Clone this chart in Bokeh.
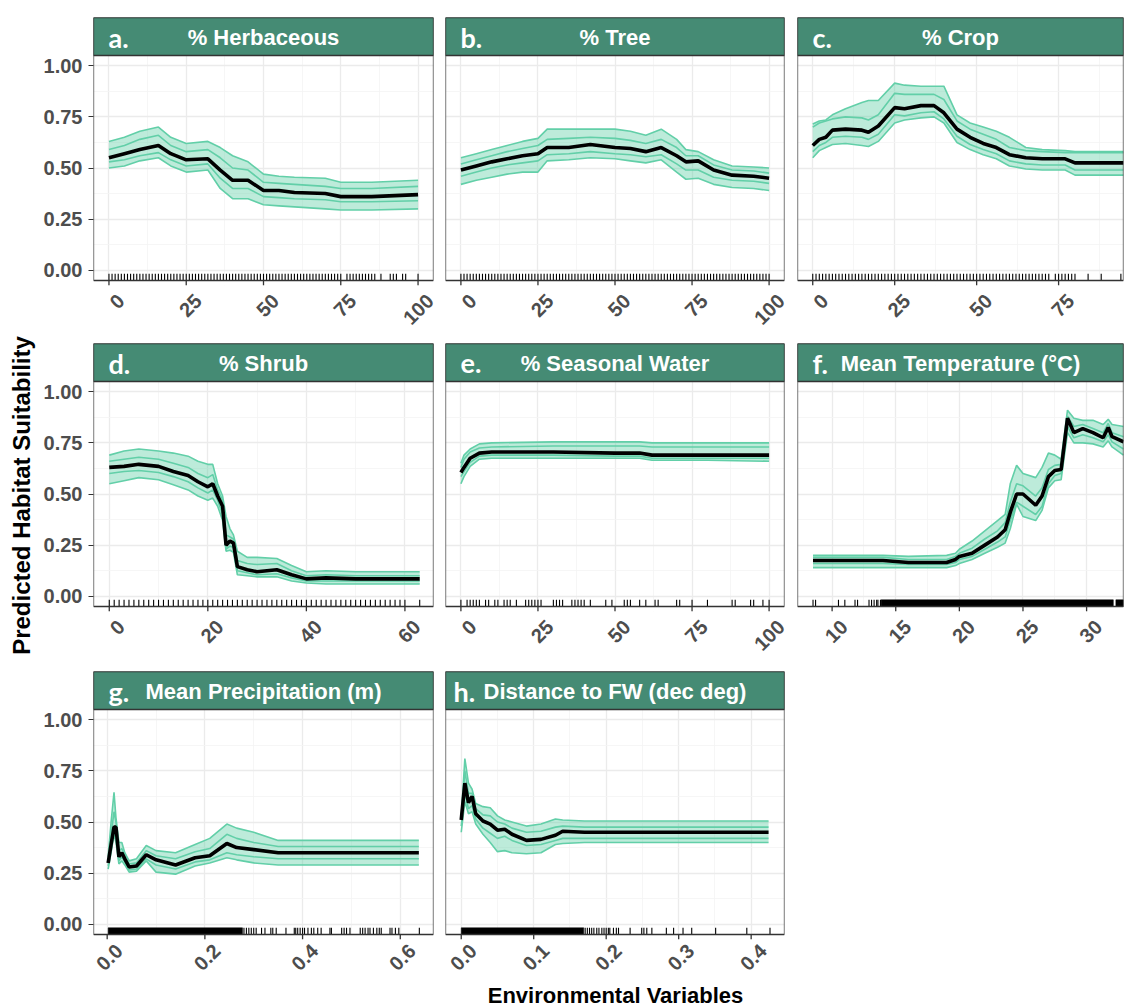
import math
from bokeh.plotting import figure
from bokeh.layouts import row, column
from bokeh.models import (FixedTicker, BoxAnnotation, Label, PrintfTickFormatter, Range1d,
                          CustomJSTickFormatter)
from bokeh.embed import file_html
from bokeh.resources import INLINE

# ---------------- data ----------------
# a. % Herbaceous
xs_a = [0, 5, 10, 16, 20, 25, 32, 36, 40, 45, 50, 55, 60, 70, 75, 85, 100]
mean_a = [0.55, 0.57, 0.59, 0.61, 0.57, 0.54, 0.545, 0.49, 0.44, 0.44, 0.39, 0.39, 0.38, 0.375, 0.36, 0.36, 0.37]
hi_a = [0.63, 0.65, 0.68, 0.70, 0.65, 0.62, 0.63, 0.60, 0.56, 0.53, 0.47, 0.46, 0.455, 0.45, 0.43, 0.43, 0.44]
hi2_a = [0.59, 0.61, 0.64, 0.66, 0.61, 0.58, 0.59, 0.55, 0.50, 0.49, 0.43, 0.425, 0.42, 0.41, 0.40, 0.40, 0.41]
lo2_a = [0.53, 0.54, 0.56, 0.575, 0.54, 0.51, 0.52, 0.45, 0.40, 0.40, 0.36, 0.355, 0.35, 0.345, 0.335, 0.335, 0.34]
lo_a = [0.50, 0.51, 0.535, 0.55, 0.51, 0.48, 0.49, 0.40, 0.35, 0.35, 0.32, 0.315, 0.31, 0.30, 0.295, 0.295, 0.30]
rug_a = list(range(0, 76)) + [77, 78, 79, 80, 81, 82, 83, 84, 85, 86, 88, 91, 92, 93, 95, 96, 100]

# b. % Tree
xs_b = [0, 5, 10, 15, 20, 25, 28, 35, 42, 50, 55, 60, 65, 70, 73, 77, 82, 88, 95, 100]
mean_b = [0.49, 0.51, 0.53, 0.545, 0.56, 0.57, 0.60, 0.60, 0.615, 0.60, 0.595, 0.58, 0.60, 0.56, 0.53, 0.535, 0.49, 0.465, 0.46, 0.45]
hi_b = [0.55, 0.57, 0.59, 0.61, 0.63, 0.645, 0.69, 0.69, 0.69, 0.69, 0.68, 0.66, 0.69, 0.64, 0.59, 0.58, 0.54, 0.51, 0.505, 0.50]
hi2_b = [0.52, 0.54, 0.56, 0.58, 0.595, 0.61, 0.64, 0.645, 0.65, 0.645, 0.635, 0.62, 0.64, 0.60, 0.56, 0.56, 0.515, 0.49, 0.485, 0.475]
lo2_b = [0.46, 0.48, 0.50, 0.515, 0.525, 0.535, 0.565, 0.57, 0.58, 0.57, 0.565, 0.555, 0.565, 0.52, 0.49, 0.49, 0.455, 0.44, 0.435, 0.425]
lo_b = [0.42, 0.44, 0.455, 0.47, 0.48, 0.48, 0.535, 0.54, 0.55, 0.545, 0.535, 0.525, 0.54, 0.48, 0.445, 0.45, 0.42, 0.405, 0.40, 0.39]
rug_b = list(range(0, 101))

# c. % Crop
xs_c = [0, 2, 4, 6, 10, 15, 17, 20, 25, 28, 33, 37, 40, 44, 48, 52, 56, 60, 65, 70, 77, 80, 94.8]
mean_c = [0.61, 0.64, 0.65, 0.685, 0.69, 0.685, 0.675, 0.705, 0.795, 0.79, 0.805, 0.805, 0.77, 0.69, 0.65, 0.62, 0.60, 0.565, 0.55, 0.545, 0.545, 0.525, 0.525]
hi_c = [0.715, 0.73, 0.735, 0.76, 0.79, 0.82, 0.83, 0.83, 0.915, 0.905, 0.90, 0.90, 0.90, 0.76, 0.72, 0.70, 0.68, 0.65, 0.60, 0.59, 0.585, 0.58, 0.58]
hi2_c = [0.70, 0.72, 0.73, 0.74, 0.75, 0.745, 0.735, 0.76, 0.865, 0.86, 0.86, 0.86, 0.835, 0.73, 0.69, 0.665, 0.64, 0.60, 0.585, 0.58, 0.575, 0.575, 0.575]
lo2_c = [0.58, 0.61, 0.625, 0.65, 0.655, 0.65, 0.64, 0.665, 0.76, 0.755, 0.77, 0.775, 0.74, 0.655, 0.615, 0.59, 0.57, 0.535, 0.52, 0.515, 0.515, 0.49, 0.49]
lo_c = [0.55, 0.585, 0.60, 0.615, 0.62, 0.61, 0.605, 0.63, 0.72, 0.735, 0.745, 0.75, 0.72, 0.625, 0.59, 0.565, 0.545, 0.51, 0.495, 0.49, 0.49, 0.465, 0.465]
rug_c = list(range(0, 73)) + [74, 75, 76, 77, 78, 79, 80, 84, 88, 94]

# d. % Shrub
xs_d = [0, 3, 6, 10, 13, 16, 18, 20, 21, 22, 23, 23.7, 24.5, 25.2, 26, 28, 30, 34, 37, 40, 44, 50, 63]
mean_d = [0.63, 0.635, 0.645, 0.635, 0.61, 0.59, 0.56, 0.535, 0.55, 0.49, 0.44, 0.25, 0.27, 0.26, 0.145, 0.13, 0.12, 0.13, 0.105, 0.085, 0.09, 0.085, 0.085]
hi_d = [0.69, 0.71, 0.72, 0.71, 0.70, 0.685, 0.66, 0.645, 0.645, 0.55, 0.49, 0.39, 0.33, 0.30, 0.22, 0.19, 0.19, 0.185, 0.15, 0.12, 0.125, 0.12, 0.12]
hi2_d = [0.66, 0.67, 0.68, 0.67, 0.65, 0.63, 0.60, 0.58, 0.595, 0.52, 0.47, 0.30, 0.29, 0.28, 0.175, 0.16, 0.155, 0.16, 0.125, 0.10, 0.105, 0.10, 0.10]
lo2_d = [0.60, 0.61, 0.615, 0.605, 0.585, 0.56, 0.53, 0.505, 0.52, 0.47, 0.40, 0.23, 0.245, 0.24, 0.125, 0.115, 0.105, 0.11, 0.09, 0.075, 0.075, 0.075, 0.075]
lo_d = [0.55, 0.565, 0.58, 0.57, 0.545, 0.52, 0.49, 0.47, 0.48, 0.44, 0.37, 0.22, 0.225, 0.215, 0.105, 0.10, 0.095, 0.095, 0.075, 0.065, 0.06, 0.06, 0.06]
rug_d = list(range(0, 61)) + [63]

# e. % Seasonal Water
xs_e = [0, 1, 3, 6, 10, 30, 50, 58, 62, 80, 100]
mean_e = [0.605, 0.63, 0.675, 0.70, 0.705, 0.705, 0.70, 0.70, 0.69, 0.69, 0.69]
hi_e = [0.65, 0.69, 0.72, 0.745, 0.75, 0.755, 0.755, 0.755, 0.75, 0.75, 0.75]
hi2_e = [0.63, 0.67, 0.705, 0.725, 0.73, 0.735, 0.735, 0.735, 0.73, 0.73, 0.73]
lo2_e = [0.585, 0.61, 0.655, 0.685, 0.69, 0.69, 0.685, 0.685, 0.675, 0.675, 0.675]
lo_e = [0.55, 0.585, 0.635, 0.67, 0.675, 0.675, 0.675, 0.675, 0.665, 0.665, 0.66]
rug_e = [0, 2, 3, 4, 5, 6, 8, 9, 11, 12, 14, 15, 16, 18, 21, 22, 23, 24, 25, 26, 30, 31, 32, 33,
         36, 37, 38, 39, 40, 42, 47, 49, 53, 54, 55, 58, 60, 63, 64, 70, 71, 75, 80, 88, 89, 94, 95, 98, 100]

# f. Mean Temperature (°C)
xs_f = [8.5, 14, 16, 19, 19.7, 20, 21, 22, 23, 23.6, 24, 24.5, 25, 26, 26.5, 27, 27.5, 28, 28.5, 29, 29.7, 30.5, 31.3, 31.7, 32, 32.9]
mean_f = [0.175, 0.175, 0.165, 0.165, 0.18, 0.195, 0.21, 0.25, 0.29, 0.325, 0.41, 0.50, 0.50, 0.445, 0.49, 0.585, 0.615, 0.62, 0.87, 0.80, 0.82, 0.80, 0.775, 0.825, 0.78, 0.755]
hi_f = [0.20, 0.20, 0.195, 0.20, 0.21, 0.23, 0.27, 0.32, 0.37, 0.40, 0.55, 0.64, 0.60, 0.58, 0.63, 0.70, 0.69, 0.67, 0.91, 0.87, 0.86, 0.86, 0.84, 0.865, 0.84, 0.83]
hi2_f = [0.19, 0.19, 0.18, 0.18, 0.195, 0.21, 0.235, 0.28, 0.32, 0.36, 0.46, 0.55, 0.54, 0.49, 0.53, 0.62, 0.64, 0.645, 0.88, 0.83, 0.84, 0.82, 0.80, 0.845, 0.80, 0.78]
lo2_f = [0.16, 0.16, 0.155, 0.155, 0.165, 0.18, 0.195, 0.23, 0.265, 0.29, 0.37, 0.46, 0.44, 0.40, 0.44, 0.55, 0.59, 0.60, 0.83, 0.775, 0.79, 0.775, 0.755, 0.79, 0.755, 0.72]
lo_f = [0.14, 0.14, 0.14, 0.14, 0.15, 0.16, 0.18, 0.21, 0.24, 0.26, 0.33, 0.45, 0.39, 0.37, 0.42, 0.53, 0.565, 0.57, 0.80, 0.75, 0.75, 0.745, 0.73, 0.76, 0.73, 0.69]
rug_f = [8.5, 8.7, 10.5, 11.0, 11.8, 12.0, 12.9, 13.1, 13.3, 13.5, 13.6, 13.8]
rug_span_f = [(13.85, 32.1), (32.3, 32.9)]

# g. Mean Precipitation (m)
xs_g = [0.002, 0.008, 0.014, 0.018, 0.024, 0.03, 0.036, 0.045, 0.06, 0.08, 0.1, 0.14, 0.18, 0.21, 0.245, 0.265, 0.3, 0.35, 0.638]
mean_g = [0.30, 0.39, 0.475, 0.475, 0.33, 0.35, 0.32, 0.28, 0.285, 0.34, 0.315, 0.29, 0.325, 0.335, 0.395, 0.375, 0.365, 0.35, 0.35]
hi_g = [0.33, 0.50, 0.645, 0.52, 0.40, 0.40, 0.35, 0.31, 0.32, 0.385, 0.36, 0.35, 0.39, 0.42, 0.49, 0.47, 0.45, 0.41, 0.41]
hi2_g = [0.31, 0.44, 0.55, 0.50, 0.36, 0.37, 0.335, 0.295, 0.30, 0.36, 0.335, 0.32, 0.355, 0.37, 0.44, 0.42, 0.40, 0.38, 0.38]
lo2_g = [0.285, 0.37, 0.45, 0.44, 0.31, 0.33, 0.305, 0.265, 0.27, 0.32, 0.29, 0.27, 0.305, 0.315, 0.35, 0.34, 0.33, 0.32, 0.32]
lo_g = [0.27, 0.35, 0.44, 0.40, 0.295, 0.31, 0.29, 0.255, 0.26, 0.31, 0.255, 0.245, 0.285, 0.30, 0.325, 0.315, 0.30, 0.29, 0.29]
rug_g = [0.28, 0.285, 0.29, 0.295, 0.30, 0.305, 0.316, 0.323, 0.335, 0.339, 0.346, 0.366, 0.383, 0.386, 0.39,
         0.395, 0.4, 0.404, 0.411, 0.418, 0.423, 0.431, 0.438, 0.456, 0.459, 0.48, 0.485, 0.49, 0.497,
         0.518, 0.523, 0.528, 0.534, 0.538, 0.545, 0.552, 0.557, 0.561, 0.579, 0.583, 0.59, 0.597, 0.639]
rug_span_g = [(0.002, 0.277)]

# h. Distance to FW (dec deg)
xs_h = [0, 0.005, 0.01, 0.015, 0.02, 0.03, 0.04, 0.05, 0.06, 0.07, 0.09, 0.11, 0.13, 0.14, 0.17, 0.424]
mean_h = [0.51, 0.69, 0.595, 0.625, 0.54, 0.505, 0.49, 0.46, 0.465, 0.44, 0.41, 0.415, 0.435, 0.455, 0.45, 0.45]
hi_h = [0.52, 0.81, 0.69, 0.66, 0.59, 0.575, 0.57, 0.53, 0.51, 0.50, 0.48, 0.49, 0.515, 0.51, 0.505, 0.505]
hi2_h = [0.515, 0.75, 0.64, 0.64, 0.565, 0.535, 0.53, 0.50, 0.49, 0.47, 0.45, 0.455, 0.475, 0.48, 0.475, 0.475]
lo2_h = [0.48, 0.64, 0.565, 0.58, 0.515, 0.47, 0.445, 0.42, 0.43, 0.41, 0.385, 0.39, 0.41, 0.42, 0.42, 0.42]
lo_h = [0.45, 0.60, 0.54, 0.55, 0.49, 0.44, 0.40, 0.355, 0.36, 0.35, 0.345, 0.35, 0.39, 0.395, 0.40, 0.40]
rug_h = [0.171, 0.174, 0.177, 0.18, 0.183, 0.187, 0.19, 0.194, 0.197, 0.2, 0.203, 0.205, 0.21, 0.214, 0.217,
         0.233, 0.249, 0.252, 0.256, 0.263, 0.283, 0.293, 0.306, 0.318, 0.351, 0.394, 0.426]
rug_span_h = [(0.0, 0.169)]

letters = ["a.", "b.", "c.", "d.", "e.", "f.", "g.", "h."]
titles = ["% Herbaceous", "% Tree", "% Crop", "% Shrub", "% Seasonal Water",
          "Mean Temperature (°C)", "Mean Precipitation (m)", "Distance to FW (dec deg)"]
y_title = "Predicted Habitat Suitability"
x_title = "Environmental Variables"
y_ticks = [0, 0.25, 0.5, 0.75, 1.0]
y_minor = [0.125, 0.375, 0.625, 0.875]

panels = [
    dict(xs=xs_a, mean=mean_a, greens=[hi_a, hi2_a, lo2_a, lo_a], rug=rug_a, spans=[], xr=(-5, 105),
         ticks=[0, 25, 50, 75, 100], minor=[12.5, 37.5, 62.5, 87.5], nd=0),
    dict(xs=xs_b, mean=mean_b, greens=[hi_b, hi2_b, lo2_b, lo_b], rug=rug_b, spans=[], xr=(-5, 105),
         ticks=[0, 25, 50, 75, 100], minor=[12.5, 37.5, 62.5, 87.5], nd=0),
    dict(xs=xs_c, mean=mean_c, greens=[hi_c, hi2_c, lo2_c, lo_c], rug=rug_c, spans=[], xr=(-4.65, 94.8),
         ticks=[0, 25, 50, 75], minor=[12.5, 37.5, 62.5, 87.5], nd=0),
    dict(xs=xs_d, mean=mean_d, greens=[hi_d, hi2_d, lo2_d, lo_d], rug=rug_d, spans=[], xr=(-3.2, 65.8),
         ticks=[0, 20, 40, 60], minor=[10, 30, 50], nd=0),
    dict(xs=xs_e, mean=mean_e, greens=[hi_e, hi2_e, lo2_e, lo_e], rug=rug_e, spans=[], xr=(-5, 105),
         ticks=[0, 25, 50, 75, 100], minor=[12.5, 37.5, 62.5, 87.5], nd=0),
    dict(xs=xs_f, mean=mean_f, greens=[hi_f, hi2_f, lo2_f, lo_f], rug=rug_f, spans=rug_span_f, xr=(7.28, 32.9),
         ticks=[10, 15, 20, 25, 30], minor=[12.5, 17.5, 22.5, 27.5], nd=0),
    dict(xs=xs_g, mean=mean_g, greens=[hi_g, hi2_g, lo2_g, lo_g], rug=rug_g, spans=rug_span_g, xr=(-0.028, 0.668),
         ticks=[0, 0.2, 0.4, 0.6], minor=[0.1, 0.3, 0.5], nd=1),
    dict(xs=xs_h, mean=mean_h, greens=[hi_h, hi2_h, lo2_h, lo_h], rug=rug_h, spans=rug_span_h, xr=(-0.0217, 0.446),
         ticks=[0, 0.1, 0.2, 0.3, 0.4], minor=[0.05, 0.15, 0.25, 0.35], nd=1),
]

# ---------------- styling / layout ----------------
GREEN = "#62CFA8"
STRIP = "#458B74"
BORDER = "#333333"
TICKCOL = "#4D4D4D"
FONT = "Liberation Sans"

YT_W = 36
col_w = [403, 351, 334]
col_bl = [57, 6, 7]
col_br = [6, 6, 1]
TICK_PX = 5
FRAME_H = 263 + TICK_PX
row_bt = [17, 9, 9]
row_bb = [49, 51, 43]
row_standoff = [12, 12, 8]
row_h = [row_bt[k] + FRAME_H + row_bb[k] for k in range(3)]
TOTAL_H = 1007
XT_H = TOTAL_H - sum(row_h)
PX_PER_UNIT = 225 / 1.1
STRIP_H = 38 / PX_PER_UNIT
TICK_H = TICK_PX / PX_PER_UNIT
Y0 = -0.05
Y1 = 1.05
RUG_LEN = 6.7 / PX_PER_UNIT
LABEL_SHIFT_PX = 12


def style_axis(ax, size):
    ax.axis_line_color = None
    ax.major_tick_line_color = BORDER
    ax.major_tick_line_width = 1.2
    ax.major_tick_out = 5
    ax.major_tick_in = 0
    ax.minor_tick_line_color = None
    ax.major_label_text_font = FONT
    ax.major_label_text_font_style = "bold"
    ax.major_label_text_font_size = size
    ax.major_label_text_color = TICKCOL


def make_panel(i, r, c):
    d = panels[i]
    p = figure(width=col_w[c], height=row_h[r], output_backend="svg", toolbar_location=None,
               x_range=Range1d(*d["xr"]), y_range=Range1d(Y0 - TICK_H, Y1 + STRIP_H),
               min_border_left=col_bl[c], min_border_right=col_br[c],
               min_border_top=row_bt[r], min_border_bottom=row_bb[r])
    p.background_fill_color = "white"
    p.border_fill_color = "white"
    p.outline_line_color = None

    p.xgrid.ticker = FixedTicker(ticks=d["ticks"], minor_ticks=d["minor"])
    p.ygrid.ticker = FixedTicker(ticks=y_ticks, minor_ticks=y_minor)
    for g in (p.xgrid, p.ygrid):
        g.grid_line_color = "#EBEBEB"
        g.grid_line_width = 1.3
        g.minor_grid_line_color = "#F4F4F4"
        g.minor_grid_line_width = 0.8

    # white zone under the panel (where the x tick marks sit)
    p.add_layout(BoxAnnotation(top=Y0, fill_color="white", fill_alpha=1.0, line_alpha=0.0,
                               level="underlay"))

    # x axis: rotated labels, centred under the tick marks
    frame_w = col_w[c] - col_bl[c] - col_br[c]
    delta = LABEL_SHIFT_PX * (d["xr"][1] - d["xr"][0]) / frame_w
    xa = p.xaxis[0]
    xa.ticker = FixedTicker(ticks=[t + delta for t in d["ticks"]])
    xa.formatter = CustomJSTickFormatter(
        code="var v = Math.round((tick - %r) * 1e6) / 1e6; return v.toFixed(%d);" % (delta, d["nd"]))
    style_axis(xa, "20px")
    xa.major_tick_out = 0
    xa.major_tick_line_color = None
    xa.major_label_orientation = math.pi / 4
    xa.major_label_standoff = row_standoff[r]

    ya = p.yaxis[0]
    if c == 0:
        ya.ticker = FixedTicker(ticks=y_ticks, minor_ticks=y_minor)
        ya.formatter = PrintfTickFormatter(format="%.2f")
        style_axis(ya, "20px")
        ya.major_label_standoff = 6
    else:
        ya.visible = False

    # x tick marks
    p.segment(x0=d["ticks"], y0=[Y0] * len(d["ticks"]), x1=d["ticks"], y1=[Y0 - TICK_H] * len(d["ticks"]),
              line_color=BORDER, line_width=1.3)

    lo, hi = d["greens"][-1], d["greens"][0]
    p.varea(x=d["xs"], y1=lo, y2=hi, fill_color=GREEN, fill_alpha=0.42)
    for ys in d["greens"]:
        p.line(d["xs"], ys, line_color=GREEN, line_width=1.6)
    p.line(d["xs"], d["mean"], line_color="black", line_width=3.6)

    p.segment(x0=d["rug"], y0=[Y0] * len(d["rug"]), x1=d["rug"], y1=[Y0 + RUG_LEN] * len(d["rug"]),
              line_color="black", line_width=1.1)
    if d["spans"]:
        p.quad(left=[s[0] for s in d["spans"]], right=[s[1] for s in d["spans"]],
               bottom=[Y0] * len(d["spans"]), top=[Y0 + RUG_LEN] * len(d["spans"]),
               fill_color="black", line_color="black", line_width=0.5)

    # panel border and strip
    p.add_layout(BoxAnnotation(bottom=Y0, fill_alpha=0.0, line_color=BORDER, line_alpha=1.0,
                               line_width=1.3))
    p.add_layout(BoxAnnotation(bottom=Y1, fill_color=STRIP, fill_alpha=1.0,
                               line_color=BORDER, line_alpha=1.0, line_width=1.3))
    xs0, xs1 = d["xr"]
    ymid = Y1 + STRIP_H / 2
    p.add_layout(Label(x=(xs0 + xs1) / 2, y=ymid, text=titles[i], text_align="center",
                       text_baseline="middle", text_color="white", text_font=FONT,
                       text_font_style="bold", text_font_size="22px", y_offset=-1))
    p.add_layout(Label(x=xs0, y=ymid, x_offset=(8 if i == 7 else 15), text=letters[i],
                       text_align="left", text_baseline="middle", text_color="white",
                       text_font="Lato", text_font_style="bold", text_font_size="27px", y_offset=-1))
    return p


def blank(width, height, xr, yr):
    p = figure(width=width, height=height, output_backend="svg", toolbar_location=None,
               x_range=Range1d(*xr), y_range=Range1d(*yr),
               x_axis_location=None, y_axis_location=None,
               min_border_left=0, min_border_right=0, min_border_top=0, min_border_bottom=0)
    p.grid.visible = False
    p.outline_line_color = None
    p.background_fill_color = "white"
    p.border_fill_color = "white"
    return p


# left title column
yt = blank(YT_W, TOTAL_H, (0, YT_W), (0, TOTAL_H))
yt.add_layout(Label(x=21, y=TOTAL_H - 495, text=y_title, angle=math.pi / 2, text_align="center",
                    text_baseline="middle", text_color="black", text_font=FONT,
                    text_font_style="bold", text_font_size="24px"))

# bottom title row
xt_w = sum(col_w)
xt = blank(xt_w, XT_H, (0, xt_w), (0, XT_H))
xt.add_layout(Label(x=615 - YT_W, y=TOTAL_H - 994.5, text=x_title, text_align="center",
                    text_baseline="middle", text_color="black", text_font=FONT,
                    text_font_style="bold", text_font_size="22px"))

layout_rows = [[0, 1, 2], [3, 4, 5], [6, 7]]
rows = []
for r, idxs in enumerate(layout_rows):
    figs = [make_panel(i, r, c) for c, i in enumerate(idxs)]
    rows.append(row(*figs, spacing=0))
page = row(yt, column(*rows, xt, spacing=0), spacing=0)

open("out.html", "w").write(file_html(page, INLINE))
